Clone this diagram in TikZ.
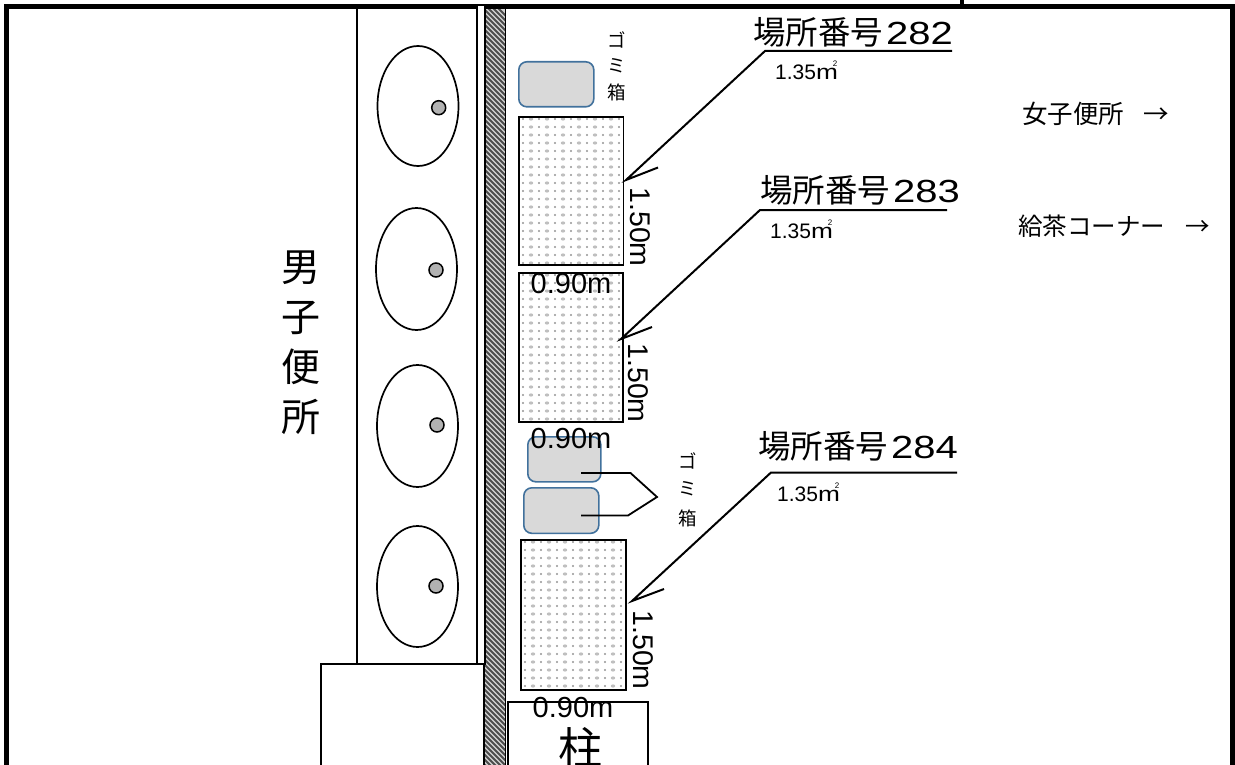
\documentclass[tikz,border=0pt]{standalone}
\usepackage{fontspec}
\setmainfont{Liberation Sans}
\newfontfamily\cjk{Noto Sans CJK JP}
\newfontfamily\widedigits[FakeStretch=1.25]{Liberation Sans}
\newcommand{\fs}[1]{\fontsize{#1}{#1}\selectfont}
\newcommand{\dotgrid}[4]{%
  \begin{scope}
    \clip (#1,#2) rectangle (#3,#4);
    \foreach \i in {0,...,13} \foreach \j in {0,...,19} {
      \pgfmathtruncatemacro{\odd}{mod(\i,2)}
      \ifnum\odd=0
        \fill[gray!85] (#1+5+8*\i,#2+3+8*\j) circle (1.15);
      \else
        \fill[gray!50] (#1+5+8*\i,#2+3+8*\j) ellipse (2.2 and 1.6);
      \fi
    }
  \end{scope}}
\definecolor{binblue}{HTML}{41719C}
\definecolor{bingray}{HTML}{D9D9D9}
\usetikzlibrary{shapes.geometric}
\tikzset{
  ln/.style={draw=black,line width=1.7},
  thick border/.style={draw=black,line width=4.5},
  bowl/.style={ln,ellipse,inner sep=0},
  bowldot/.style={circle,draw=black,line width=1.5,fill=gray!60,minimum size=14,inner sep=0},
  binbox/.style={rectangle,rounded corners=8,draw=binblue,line width=1.6,fill=bingray,anchor=north west,inner sep=0},
  mat/.style={rectangle,draw=black,line width=1.8,anchor=north west,inner sep=0},
  plainbox/.style={rectangle,draw=black,line width=1.7,anchor=north west,inner sep=0},
  title/.style={anchor=base west,inner sep=0,font=\cjk\fs{32.5}},
  area/.style={anchor=base west,inner sep=0,font=\fs{21}},
  dim/.style={anchor=base,inner sep=0,font=\fs{29}},
  dimv/.style={anchor=base,inner sep=0,rotate=-90,font=\fs{28.5}},
  binlabel/.style={inner sep=0,font=\cjk\fs{18.5}},
  side/.style={anchor=base west,inner sep=0,font=\cjk\fs{24.5}},
  leader/.style={draw=black,line width=1.8},
  lead2/.style={draw=black,line width=2},
}
\newcommand{\titletext}[1]{場所番号\hspace{3pt}{\widedigits\fs{32}#1}}
\newcommand{\areatext}{1.35{\widedigits m}\kern-5pt\raisebox{13pt}{\fs{8}2}}
\begin{document}
\begin{tikzpicture}[x=1pt,y=-1pt]
\useasboundingbox (0,0) rectangle (1235,765);
% lower box, room
\node[plainbox,minimum width=163,minimum height=110] (stall) at (320,663) {};
\node[plainbox,minimum width=120,minimum height=656] (room) at (356,7) {};
% wall with hatching
\begin{scope}
  \clip (485,8) rectangle (505,765);
  \fill[gray!35] (485,8) rectangle (505,765);
  \foreach \k in {0,...,160}
    \draw[gray!60!black,line width=2.1] (470,5*\k-20) -- (520,5*\k+30);
\end{scope}
\draw[line width=2.6] (484,8) -- (484,765);
\draw[line width=1.4] (505.5,8) -- (505.5,765);
% outer border
\draw[thick border] (1235,6.5) -- (6.5,6.5) -- (6.5,765);
\draw[thick border] (1232.7,6.5) -- (1232.7,765);
\draw[line width=3.6] (961.7,0) -- (961.7,5);
\node[plainbox,fill=white,minimum width=8,minimum height=659,draw=black] (strip) at (476,4) {};
% urinals
\node[bowl,minimum width=81,minimum height=120] (b1) at (418,106) {};
\node[bowl,minimum width=81,minimum height=122] (b2) at (416.5,269) {};
\node[bowl,minimum width=81,minimum height=122] (b3) at (417.5,426) {};
\node[bowl,minimum width=81,minimum height=121] (b4) at (417.5,586.5) {};
\node[bowldot] (d1) at (438.7,107.7) {};
\node[bowldot] (d2) at (436,270) {};
\node[bowldot] (d3) at (437,425) {};
\node[bowldot] (d4) at (436,586) {};
\node[inner sep=0,align=center,font=\cjk\fontsize{39}{50}\selectfont] (mens) at (301,343) {男\\子\\便\\所};
% bins
\node[binbox,minimum width=75,minimum height=45] (bin1) at (518,61) {};
\node[binbox,minimum width=73,minimum height=45] (bin2) at (527,436) {};
\node[binbox,minimum width=75,minimum height=45.5] (bin3) at (523,487) {};
% mats
\dotgrid{518}{116}{622.5}{264}
\dotgrid{518}{272}{622}{421}
\dotgrid{520}{539}{625}{689}
\node[mat,minimum width=104.5,minimum height=148] (m1) at (518,116) {};
\node[mat,minimum width=104,minimum height=149] (m2) at (518,272) {};
\node[mat,minimum width=105,minimum height=150] (m3) at (520,539) {};
% pillar
\node[plainbox,minimum width=140,minimum height=66] (pillar) at (507,701) {};
\node[inner sep=0,font=\cjk\fs{44}] (pillartext) at (580,748) {柱};
% bin labels
\node[binlabel] (ga) at (617,40) {ゴ};
\node[binlabel] (gb) at (617,66) {ミ};
\node[binlabel] (gc) at (617,92) {箱};
\node[binlabel] (ha) at (688,461) {ゴ};
\node[binlabel] (hb) at (688,489) {ミ};
\node[binlabel] (hc) at (688,518) {箱};
% bracket
\coordinate (bs1) at (581,473);
\coordinate (bk1) at (630.5,473);
\coordinate (bt) at (657,497);
\coordinate (bk2) at (628,515.5);
\coordinate (bs2) at (581,515.5);
\draw[leader] (bs1) -- (bk1) -- (bt) -- (bk2) -- (bs2);
% titles
\node[title] (t282) at (753,45) {\titletext{282}};
\node[title] (t283) at (760,203) {\titletext{283}};
\node[title] (t284) at (758,458) {\titletext{284}};
% leaders
\coordinate (u1a) at (952,51);\coordinate (u1b) at (765,51);\coordinate (u1t) at (626,180);\coordinate (u1e) at (658,167.5);
\coordinate (u2a) at (947,210);\coordinate (u2b) at (760,210);\coordinate (u2t) at (621,339);\coordinate (u2e) at (652,327);
\coordinate (u3a) at (957,472.5);\coordinate (u3b) at (771,472.5);\coordinate (u3t) at (632,601);\coordinate (u3e) at (664,589);
\draw[lead2] (u1a) -- (u1b) -- (u1t) -- (u1e);
\draw[lead2] (u2a) -- (u2b) -- (u2t) -- (u2e);
\draw[lead2] (u3a) -- (u3b) -- (u3t) -- (u3e);
% areas
\node[area] (a282) at (775,80) {\areatext};
\node[area] (a283) at (770,238) {\areatext};
\node[area] (a284) at (777,501.5) {\areatext};
% dims
\node[dim] (w1) at (571,293) {0.90m};
\node[dim] (w2) at (571,448) {0.90m};
\node[dim] (w3) at (573,717) {0.90m};
\node[dimv] (h1) at (630,227) {1.50m};
\node[dimv] (h2) at (628,383) {1.50m};
\node[dimv] (h3) at (633,650) {1.50m};
% side labels
\node[side,font=\cjk\fs{25.5}] (ladies) at (1022,124) {女子便所\hspace{19pt}→};
\node[side] (tea) at (1018,235) {給茶コーナー\hspace{20pt}→};
\end{tikzpicture}
\end{document}
